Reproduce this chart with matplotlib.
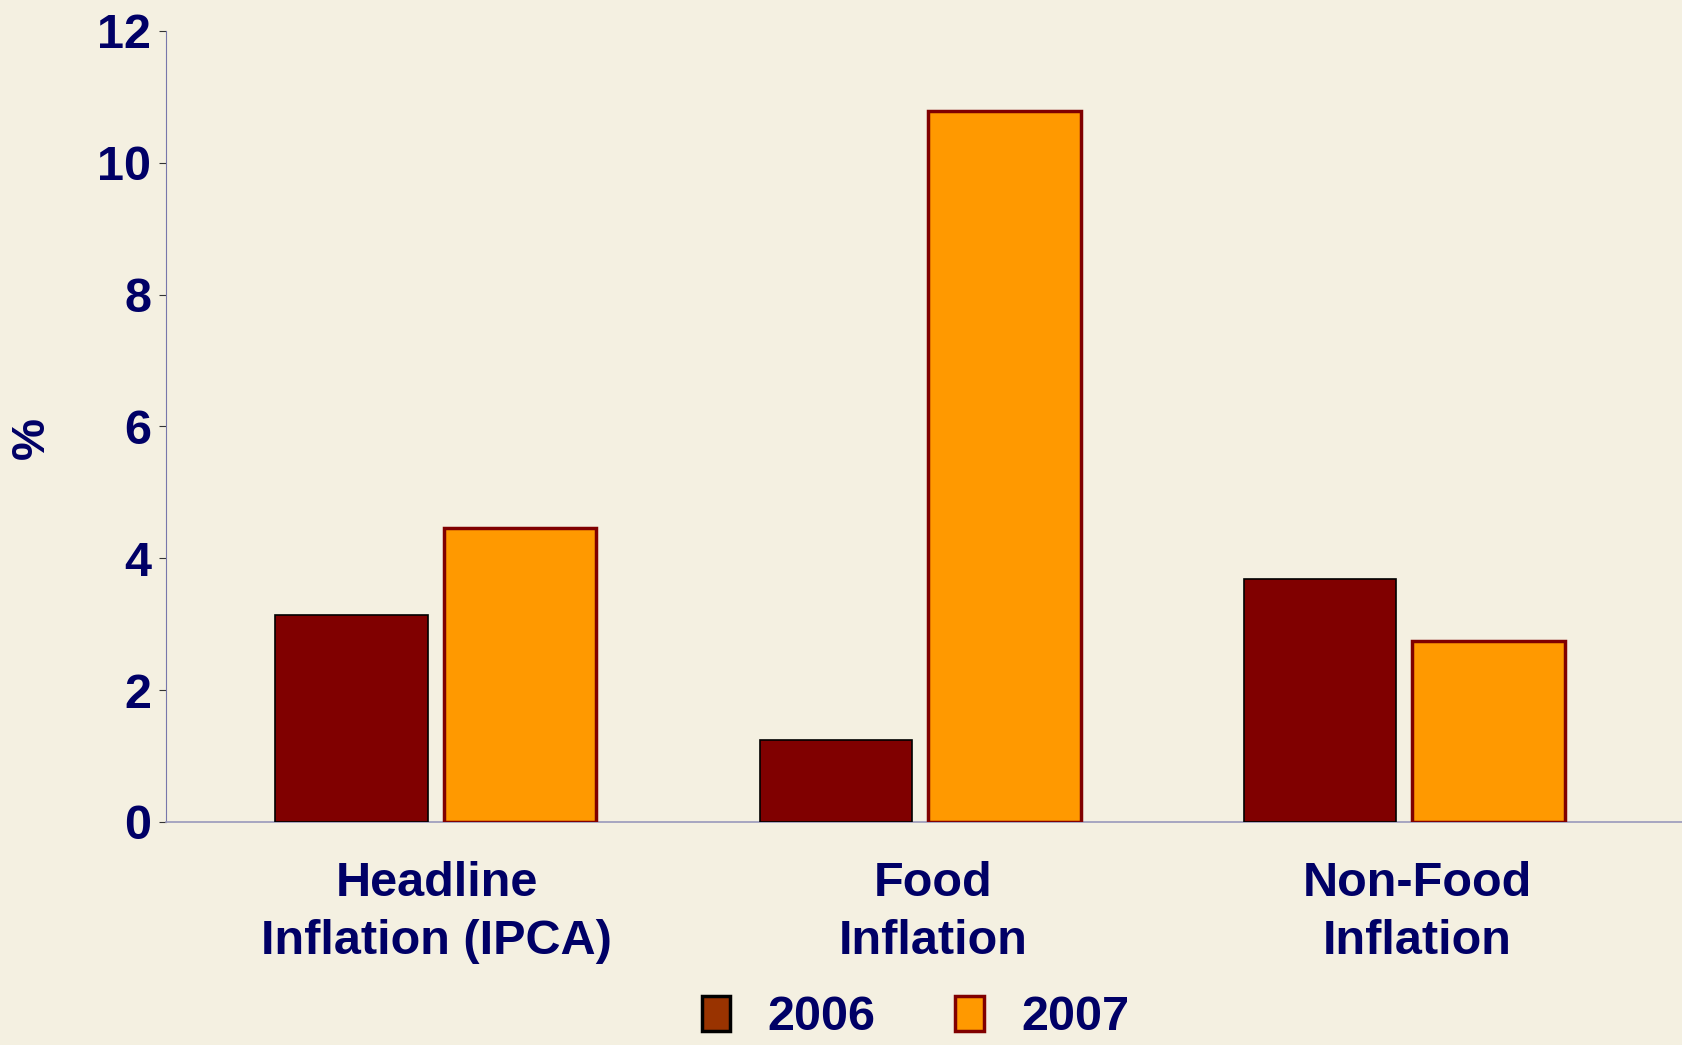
import numpy as np
import matplotlib
matplotlib.use('Agg')
import matplotlib.pyplot as plt
from matplotlib.patches import Patch

# data
categories = ['Headline\nInflation (IPCA)', 'Food\nInflation', 'Non-Food\nInflation']
years = ['2006', '2007']
vals_2006 = [3.14, 1.25, 3.68]
vals_2007 = [4.46, 10.79, 2.74]
yticks = [0, 2, 4, 6, 8, 10, 12]

navy = '#000066'
bg = '#f4f0e1'


def main():
    plt.rcParams['font.family'] = ['Liberation Sans', 'DejaVu Sans']
    plt.rcParams['font.weight'] = 'bold'

    fig = plt.figure(figsize=(16.83, 10.45), dpi=100, facecolor=bg)
    ax = fig.add_axes([0.0988, 0.2134, 0.9012, 0.757])
    ax.set_facecolor('none')

    x = np.arange(len(categories))
    w = 0.315
    off = 0.174
    ax.bar(x - off + 0.003, vals_2006, w, color='#800000', edgecolor='black', linewidth=1.2, zorder=3)
    ax.bar(x + off + 0.003, vals_2007, w, color='#ff9900', edgecolor='#800000', linewidth=2.5, zorder=3)

    ax.set_xlim(-0.554, 2.579)
    ax.set_ylim(0, 12)
    ax.set_yticks(yticks)
    # labels in the original sit a little right of the bar pairs
    ax.set_xticks(x + np.array([0.005, 0.03, 0.03]))
    ax.set_xticklabels(categories, linespacing=1.38)

    for s in ['top', 'right']:
        ax.spines[s].set_visible(False)
    ax.spines['left'].set_color('#7777aa')
    ax.spines['left'].set_linewidth(0.8)
    ax.spines['bottom'].set_color('#9999bb')
    ax.spines['bottom'].set_linewidth(1.2)

    ax.tick_params(axis='y', length=5, width=0.8, color='#333333', pad=6,
                   labelsize=35, labelcolor=navy)
    ax.tick_params(axis='x', length=0, pad=28, labelsize=35, labelcolor=navy)

    ax.set_ylabel('%', fontsize=34, color=navy, fontweight='bold')
    ax.yaxis.set_label_coords(-0.074, 0.485)

    handles = [Patch(facecolor='#993300', edgecolor='black', linewidth=2.5),
               Patch(facecolor='#ff9900', edgecolor='#800000', linewidth=2.5)]
    leg = fig.legend(handles, years, loc='center', bbox_to_anchor=(0.544, 0.026),
                     ncol=2, frameon=False, fontsize=35, handlelength=0.58,
                     handleheight=0.72, handletextpad=0.78, columnspacing=1.64,
                     borderpad=0)
    for t in leg.get_texts():
        t.set_color(navy)

    fig.savefig('out.png', dpi=100, facecolor=bg)


if __name__ == '__main__':
    main()
